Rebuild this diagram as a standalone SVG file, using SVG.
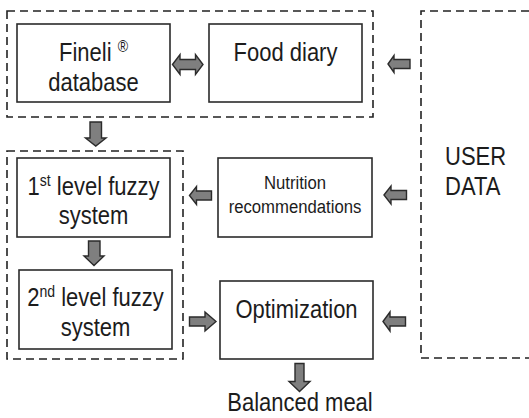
<svg xmlns="http://www.w3.org/2000/svg" width="529" height="418" viewBox="0 0 529 418">
  <style>
    .box { fill: #ffffff; stroke: #2b2b2b; stroke-width: 1.6; }
    .group { fill: none; stroke: #222222; stroke-width: 1.6; stroke-dasharray: 8 5; }
    .arrow { fill: #7f7f7f; stroke: #2b2b2b; stroke-width: 1.4; stroke-linejoin: miter; }
    text { font-family: "Liberation Sans", Arial, sans-serif; font-size: 25px; fill: #1c1c1c; }
    .small { font-size: 19px; }
    .c { text-anchor: middle; }
  </style>
  <rect width="529" height="418" fill="#ffffff"/>

  <!-- dashed groupings -->
  <g id="groups">
    <rect class="group" x="7" y="11" width="366" height="106"/>
    <rect class="group" x="7" y="151" width="176" height="208"/>
    <path class="group" d="M529 11 H421 V358 H529"/>
  </g>

  <!-- labels use a narrow horizontal scale (0.88) for a condensed face -->
  <g id="fineli">
    <rect class="box" x="17" y="24" width="153" height="78"/>
    <text class="c" transform="translate(93.5 61) scale(0.88 1)">Fineli <tspan font-size="16" dy="-9">®</tspan></text>
    <text class="c" transform="translate(93.5 91) scale(0.88 1)">database</text>
  </g>

  <g id="food-diary">
    <rect class="box" x="209" y="24" width="153" height="78"/>
    <text class="c" transform="translate(285.5 61) scale(0.88 1)">Food diary</text>
  </g>

  <g id="fuzzy-1">
    <rect class="box" x="17" y="158" width="153" height="79"/>
    <text class="c" transform="translate(93.5 195) scale(0.88 1)">1<tspan font-size="16" dy="-9">st</tspan><tspan dy="9"> level fuzzy</tspan></text>
    <text class="c" transform="translate(93.5 224) scale(0.88 1)">system</text>
  </g>

  <g id="fuzzy-2">
    <rect class="box" x="19" y="270" width="153" height="79"/>
    <text class="c" transform="translate(95.5 306) scale(0.88 1)">2<tspan font-size="16" dy="-9">nd</tspan><tspan dy="9"> level fuzzy</tspan></text>
    <text class="c" transform="translate(95.5 336) scale(0.88 1)">system</text>
  </g>

  <g id="nutrition">
    <rect class="box" x="218" y="158" width="154" height="79"/>
    <text class="c small" transform="translate(295 189) scale(0.88 1)">Nutrition</text>
    <text class="c small" transform="translate(295 213) scale(0.88 1)">recommendations</text>
  </g>

  <g id="optimization">
    <rect class="box" x="220" y="281" width="153" height="78"/>
    <text class="c" transform="translate(296.5 318) scale(0.88 1)">Optimization</text>
  </g>

  <g id="user-data">
    <text transform="translate(445 165) scale(0.88 1)">USER</text>
    <text transform="translate(445 195) scale(0.88 1)">DATA</text>
  </g>

  <g id="balanced-meal">
    <text class="c" transform="translate(300 411) scale(0.88 1)">Balanced meal</text>
  </g>

  <!-- block-arrow connectors -->
  <g id="connectors">
    <!-- Fineli <-> Food diary -->
    <path class="arrow" d="M172.5 64.5 L180 54.5 V59.5 H195.5 V54.5 L203 64.5 L195.5 74.5 V69.5 H180 V74.5 Z"/>
    <!-- user data -> food diary -->
    <path class="arrow" d="M388 64 L394 55.5 V59.5 H410 V68.5 H394 V72.5 Z"/>
    <!-- top group -> 1st level -->
    <path class="arrow" d="M90 122 H101.5 V138 H106 L95.75 146 L85.5 138 H90 Z"/>
    <!-- 1st level -> 2nd level -->
    <path class="arrow" d="M88.5 241 H100 V256 H104 L94 265.5 L84 256 H88.5 Z"/>
    <!-- nutrition -> 1st level -->
    <path class="arrow" d="M189.5 195.5 L196.5 186.5 V191 H211.5 V200 H196.5 V204.5 Z"/>
    <!-- user data -> nutrition -->
    <path class="arrow" d="M384 195 L391 186 V190.5 H406.5 V199.5 H391 V204 Z"/>
    <!-- 2nd level -> optimization -->
    <path class="arrow" d="M189.5 317 H205 V312 L216 321.5 L205 331 V326 H189.5 Z"/>
    <!-- user data -> optimization -->
    <path class="arrow" d="M383 321.5 L390 312 V317 H405.5 V326 H390 V331 Z"/>
    <!-- optimization -> balanced meal -->
    <path class="arrow" d="M295 363.5 H304 V381.5 H310 L299.5 391.5 L289 381.5 H295 Z"/>
  </g>
</svg>
